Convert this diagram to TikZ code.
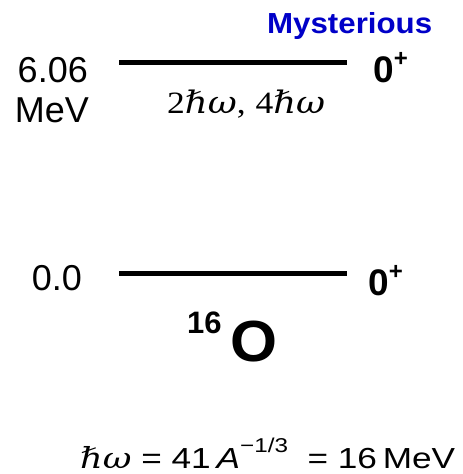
\documentclass[tikz,border=0pt]{standalone}
\usepackage{graphicx}
\usepackage{fontspec}
\setmainfont{Liberation Sans}
\newfontfamily\symf{DejaVu Serif}
\newfontfamily\serf{Liberation Serif}
\definecolor{mysblue}{RGB}{0,0,200}
\newcommand{\hw}{{\symf\itshape ℏω}}
\begin{document}
\begin{tikzpicture}[x=1pt,y=-1pt,
  lbl/.style={inner sep=0pt,font=\fontsize{36}{40}\selectfont},
  spin/.style={inner sep=0pt,font=\fontsize{37}{40}\selectfont\bfseries},
  level/.style={line width=5pt}]
\useasboundingbox (0,0) rectangle (463,474);
\node[inner sep=0pt,anchor=base west,text=mysblue,font=\fontsize{29}{32}\selectfont\bfseries] (mys) at (267,33) {\resizebox{165pt}{\height}{Mysterious}};
\node[lbl,anchor=base east] (e6) at (88,82) {6.06};
\node[lbl,anchor=base] (mev) at (52,122) {MeV};
\coordinate (t1) at (119,62);
\coordinate (t2) at (347,62);
\draw[level] (t1) -- (t2);
\node[spin,anchor=base west] (s6) at (373,82) {0\raisebox{0.42em}{\fontsize{24}{24}\selectfont +}};
\node[inner sep=0pt,anchor=base west,font=\fontsize{31}{36}\selectfont] (hw) at (167,113) {\resizebox{158pt}{\height}{{\serf 2}\hw{\serf ,} {\serf 4}\hw}};
\node[lbl,anchor=base east] (e0) at (82,290) {0.0};
\coordinate (b1) at (119,273);
\coordinate (b2) at (347,273);
\draw[level] (b1) -- (b2);
\node[spin,anchor=base west] (s0) at (368,295) {0\raisebox{0.42em}{\fontsize{24}{24}\selectfont +}};
\node[inner sep=0pt,anchor=base west,font=\bfseries] (ox) at (187,361) {\raisebox{28pt}{\fontsize{31}{31}\selectfont 16}\hspace{9pt}\fontsize{58}{60}\selectfont\resizebox{47pt}{\height}{O}};
\node[inner sep=0pt,anchor=base west,font=\fontsize{29}{30}\selectfont] (eq) at (80,468) {\resizebox{375pt}{\height}{\hw\ = 41\,\textit{A}\raisebox{0.55em}{\fontsize{20}{20}\selectfont −1/3}\ \ = 16\,MeV}};
\end{tikzpicture}
\end{document}
